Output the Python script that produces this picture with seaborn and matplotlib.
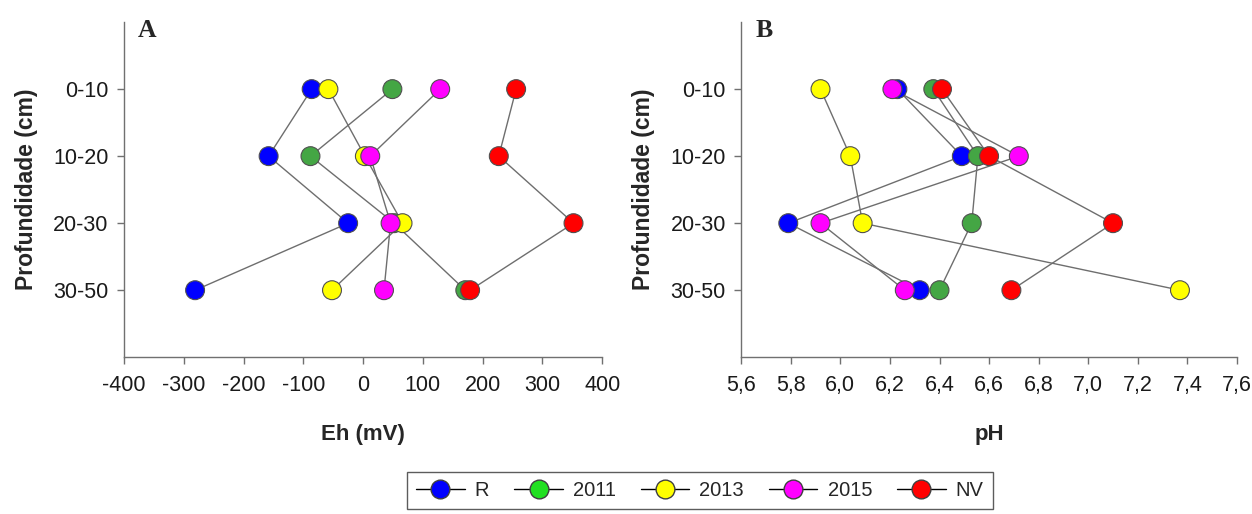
import pandas as pd
import matplotlib
matplotlib.use('Agg')
import matplotlib.pyplot as plt
from matplotlib.lines import Line2D
import seaborn as sns

# depth layers and treatments
depths = ['0-10', '10-20', '20-30', '30-50']
treatments = ['R', '2011', '2013', '2015', 'NV']

# Eh (mV) per treatment, one value per depth
eh_R = [-86, -158, -25, -281]
eh_2011 = [49, -88, 52, 171]
eh_2013 = [-58, 3, 66, -52]
eh_2015 = [129, 12, 46, 35]
eh_NV = [256, 227, 352, 179]

# pH per treatment
ph_R = [6.23, 6.49, 5.79, 6.32]
ph_2011 = [6.375, 6.555, 6.53, 6.40]
ph_2013 = [5.92, 6.04, 6.09, 7.37]
ph_2015 = [6.21, 6.72, 5.92, 6.26]
ph_NV = [6.41, 6.60, 7.10, 6.69]

eh_ticks = [-400, -300, -200, -100, 0, 100, 200, 300, 400]
ph_ticks = [5.6, 5.8, 6.0, 6.2, 6.4, 6.6, 6.8, 7.0, 7.2, 7.4, 7.6]
ph_ticklabels = ['5,6', '5,8', '6,0', '6,2', '6,4', '6,6', '6,8', '7,0', '7,2', '7,4', '7,6']

colors = {'R': '#0000ff', '2011': '#44a644', '2013': '#ffff00',
          '2015': '#ff00ff', 'NV': '#ff0000'}
legend_colors = {'R': '#0000ff', '2011': '#22e022', '2013': '#ffff00',
                 '2015': '#ff00ff', 'NV': '#ff0000'}

eh_vals = {'R': eh_R, '2011': eh_2011, '2013': eh_2013, '2015': eh_2015, 'NV': eh_NV}
ph_vals = {'R': ph_R, '2011': ph_2011, '2013': ph_2013, '2015': ph_2015, 'NV': ph_NV}

rows = []
for t in treatments:
    for i, d in enumerate(depths):
        rows.append({'trat': t, 'depth': d, 'Eh': eh_vals[t][i], 'pH': ph_vals[t][i]})
df = pd.DataFrame(rows)
df['pos'] = pd.Categorical(df['depth'], categories=depths, ordered=True).codes + 1

sns.set_style('white')
plt.rcParams['font.family'] = ['Liberation Sans', 'DejaVu Sans']

fig = plt.figure(figsize=(12.52, 5.14), dpi=100)
axA = fig.add_axes([0.099, 0.305, 0.382, 0.652])
axB = fig.add_axes([0.592, 0.305, 0.396, 0.652])


def draw_panel(ax, col, letter, xlabel, xlim, ticks, ticklabels):
    sns.lineplot(data=df, x=col, y='pos', units='trat', estimator=None, sort=False,
                 color='#6e6e6e', linewidth=1.0, ax=ax, legend=False)
    sns.scatterplot(data=df, x=col, y='pos', hue='trat', palette=colors,
                    s=185, edgecolor='#505050', linewidth=0.8, ax=ax,
                    legend=False, zorder=3)
    ax.set_xlim(xlim)
    ax.set_ylim(5, 0)
    ax.set_yticks(range(1, len(depths) + 1))
    ax.set_yticklabels(depths, fontsize=15.5)
    ax.set_xticks(ticks)
    ax.set_xticklabels(ticklabels, fontsize=15.5)
    ax.set_xlabel(xlabel, fontsize=16, fontweight='bold', labelpad=20)
    ax.set_ylabel('Profundidade (cm)', fontsize=16.5, fontweight='bold', labelpad=11)
    for s in ['top', 'right']:
        ax.spines[s].set_visible(False)
    for s in ['left', 'bottom']:
        ax.spines[s].set_color('#707070')
        ax.spines[s].set_linewidth(1.0)
    ax.tick_params(axis='both', direction='out', length=5, width=1.0,
                   color='#707070', left=True, bottom=True, labelcolor='#1a1a1a')
    ax.tick_params(axis='x', pad=8)
    ax.tick_params(axis='y', pad=6)
    ax.text(0.028, 1.01, letter, transform=ax.transAxes, fontsize=18.5,
            fontweight='bold', family='Liberation Serif', va='top', ha='left')


draw_panel(axA, 'Eh', 'A', 'Eh (mV)', (-400, 400), eh_ticks, [str(v) for v in eh_ticks])
draw_panel(axB, 'pH', 'B', 'pH', (5.6, 7.6), ph_ticks, ph_ticklabels)

handles = [Line2D([], [], color='black', linewidth=1.0, marker='o', markersize=13.5,
                  markerfacecolor=legend_colors[t], markeredgecolor='#404040')
           for t in treatments]
leg = fig.legend(handles, treatments, loc='upper center', bbox_to_anchor=(0.559, 0.082),
                 ncol=5, fontsize=14.5, frameon=True, fancybox=False,
                 edgecolor='#333333', handlelength=2.4, columnspacing=1.25,
                 handletextpad=0.5, borderpad=0.45, borderaxespad=0)
leg.get_frame().set_linewidth(1.0)

fig.savefig('out.png', dpi=100)
